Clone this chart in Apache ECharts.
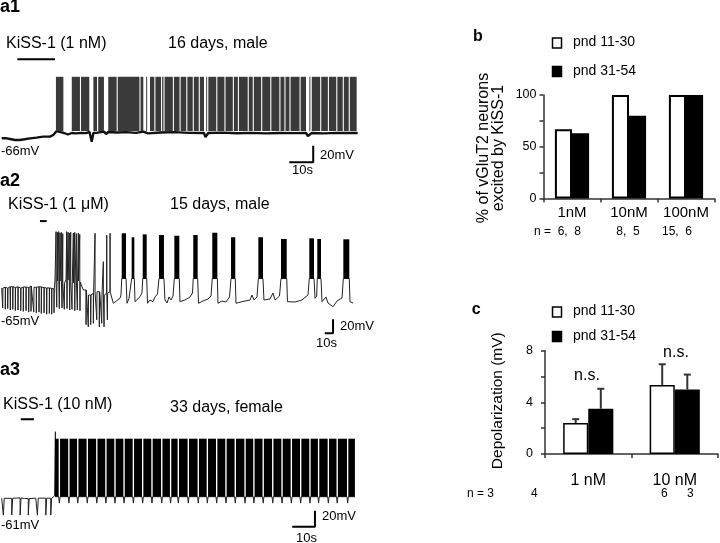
<!DOCTYPE html>
<html><head><meta charset="utf-8">
<script src="https://cdn.jsdelivr.net/npm/echarts@6.0.0/dist/echarts.min.js"></script>
<style>html,body{margin:0;padding:0;background:#fff}#chart{width:720px;height:543px}</style>
</head><body><div id="chart"></div>
<script>
// ---------------- a1 trace (time s, membrane potential mV) ----------------
const a1Baseline = [[0,-66.4],[2.1,-66.4],[3.5,-67.2],[5.5,-68.4],[7.6,-68.4],[9.5,-67.5],[11.8,-66.4],[14.5,-65.6],[17.3,-64.4],[20.1,-64.4],[21.5,-62.4],[22.9,-57.6],[24.5,-59],[26,-60],[27.6,-61.8],[29.2,-60],[31,-60.5],[33,-59.8],[35,-60.2],[36.6,-58.8],[37.5,-70.4],[38.2,-60],[40,-59.5],[42.6,-58.4],[43.5,-61.2],[44.4,-58.8],[48,-59.4],[52,-59],[56,-59.8],[59,-58.4],[61,-60.4],[61.8,-58.4],[66,-59.4],[72,-59],[78,-59.8],[84.3,-60],[84.9,-64.8],[86.1,-60],[92,-59.5],[98,-60.3],[104,-59.8],[110,-60.5],[116,-60],[122,-60.2],[126.8,-60],[127.6,-63.6],[129.2,-60],[134,-60.4],[140,-59.8],[148.3,-60]];
const a1Firing = [[22.6,25.7],[29.2,32.6],[33.05,36.5],[38.2,39.7],[40.2,42.6],[44.4,47.9],[48.35,57.4],[57.85,59.0],[60.2,60.6],[61.8,63.6],[64.05,66.4],[66.85,67.4],[67.85,71.3],[71.75,74.1],[74.55,76.9],[77.35,79.6],[80.05,82.1],[82.55,84.3],[85.2,85.6],[86.1,89.4],[89.85,92.8],[93.25,96.3],[96.75,98.4],[98.85,102.5],[102.95,104.6],[105.05,108.1],[108.55,111.9],[112.35,115.7],[116.15,117.8],[118.25,119.9],[120.35,124.1],[124.55,126.8],[128.2,128.6],[129.2,132.7],[133.15,135.9],[136.35,139.4],[139.85,142.1],[142.55,144.6],[145.05,147.9]];
const a1SpikePeak = 7.5, a1SpikeTrough = -57.6;
const a1Drug = [6.5, 22.2, 28.5];          // start s, end s, drawn at mV
const a1ScaleCorner = [129.8, -95.2];

// ---------------- a2 trace ----------------
const a2Baseline = [[0,-64.6],[3,-63.5],[6,-64.8],[10,-62.7],[14,-63.8],[18,-63],[22,-64.6],[26,-63.2],[30,-64],[34.1,-61.7],[38,-63.5],[42,-62.8],[46.1,-63.1],[50,-64],[54,-64.5],[58.2,-65],[61,-65.5],[63,-66],[64.2,-54.6],
 [67.8,-54.6],[70.5,-56],[73.9,-57.4],[77.5,-53.1],[81,-55.5],[84.7,-57.4],[89.5,-54.6],[94.3,-56],
 [98.3,-67.4],[102.4,-74.6],[108.4,-72.1],[112.4,-69.9],[118.4,-74.6],[124.5,-72.1],[130.5,-69.9],[134.5,-86.4],[138.6,-82.7],[142.5,-79.3],[143.7,-74.6],
 [151,-86.4],[153.4,-79.3],[155.8,-77],
 [160.6,-84.1],[163,-81.7],[166.6,-77],[169,-71.7],
 [175.7,-86.4],[178.7,-81.7],[182.3,-84.1],[184.7,-77.4],[187.7,-73.1],
 [196.7,-81.7],[199.2,-86],[201.6,-77.4],[204,-81.7],[206.4,-76],
 [214.8,-84.1],[220.8,-81.7],[226.9,-77.4],[229.9,-71.7],
 [237.1,-86.4],[242.5,-83.1],[248.6,-80.3],[252.2,-76],
 [260.6,-86.4],[265.4,-83.1],[270.2,-84.6],[274.5,-77.4],
 [282.3,-86.4],[289.5,-84.1],[299.2,-81.7],[301.6,-74.6],[304,-81.7],[307.6,-77.4],
 [316,-81.7],[323.2,-80.3],[326.9,-71.7],[329.3,-81.7],[334.7,-76],
 [344.3,-84.1],[353.3,-84.6],[361.8,-81.7],[369,-74.6],
 [377.5,-79.3],[379.5,-76],
 [385.9,-84.1],[390.7,-77.4],[393.1,-86],[399.2,-91.3],[404,-83.1],[410,-78.9],
 [419.6,-84.1],[423.3,-86]];
const a2Spikes = [[65.4,16],[67.0,15],[68.7,16],[70.2,14],[71.8,15],[73.5,13],[78.3,16],[79.9,15],[81.4,14],[83.1,15],[86.3,14],[87.9,15],[89.9,13],[92.3,14],[94.0,12],[112.4,13.6],[122.4,-27],[126.5,11],[130.5,13.6]];
const a2Pulses = [[1.2,-93],[4.3,-95],[7.2,-94],[10.4,-96],[13.3,-95],[16.4,-97],[19.6,-96],[22.9,-97],[26.0,-98],[29.3,-97],[32.5,-99],[35.3,-98],[38.6,-99],[41.7,-100],[44.9,-99],[47.7,-101],[51.0,-100],[54.2,-102],[57.4,-101],[60.2,-102],[63.0,-100],
 [66.3,-92],[69.4,-94],[72.7,-93],[75.4,-95],[78.7,-94],[81.9,-96],[84.7,-95],[88.0,-97],[91.1,-96],[94.3,-97],
 [101.6,-117],[104.3,-120],[107.2,-117],[110.4,-115],[114.5,-110],[117.6,-120],[120.5,-115],[123.3,-120],[127.3,-110]];
const a2Bursts = [[144.6,149.8,13.6],[156.6,159.8,7.9],[169.9,174.7,12.1],[189.5,195.5,11.1],[208,214,10.1],[230.8,236.1,11.1],[253.7,259.8,14.4],[276.3,281.4,7.9],[309.2,314.8,7.9],[336.5,343.4,5.4],[370.6,376.3,6.4],[380.2,384.7,5.4],[411.6,418.8,5]];
const a2Plateau = -51;
const a2Drug = [46.1, 54.2, 31];
const a2ScaleCorner = [399.2, -129.3];

// ---------------- a3 trace ----------------
const a3Baseline = [[0,-61],[5,-60.5],[10,-61.3],[15,-60.8],[20,-61],[22.5,-60],[23.3,-58]];
const a3Pulses = [[0.7,-82],[4.4,-82],[8.1,-82],[11.7,-82],[15.7,-82],[19.4,-82],[21.6,-82]];
const a3Spikes = [[23.6,22.2]];
const a3Gaps = [25.4,29.6,33.5,37.7,41.9,45.9,49.9,53.9,58.0,62.1,66.2,70.5,74.4,77.8,82.2,86.6,90.6,94.7,98.8,102.9,107.2,111.1,115.2,119.4,123.5,127.6,131.7,135.8,139.6,143.9,147.8,152.4];
const a3FiringSpan = [23.5, 155.6];
const a3Top = 13.5, a3Bottom = -59, a3Ahp = -67;
const a3Drug = [8.4, 14.2, 37.75];
const a3ScaleCorner = [138.0, -96.5];

const scaleTime = 10, scaleVolt = 20;

// ---------------- b: % of vGluT2 neurons excited ----------------
const bCategories = ['1nM', '10nM', '100nM'];
const bYoung = [67, 100, 100];
const bOld = [63, 80, 100];
const bTicks = [0, 50, 100];
const bN = ['n =  6,  8', '8,  5', '15,  6'];

// ---------------- c: depolarization ----------------
const cCategories = ['1 nM', '10 nM'];
const cYoung = [2.4, 5.35];
const cYoungErr = [0.3, 1.6];
const cOld = [3.5, 5.0];
const cOldErr = [1.55, 1.15];
const cTicks = [0, 4, 8];
const cN = ['n = 3', '4', '6', '3'];

const seriesNames = ['pnd 11-30', 'pnd 31-54'];

// ================= build =================
const FONT = '"Liberation Sans", Arial, Helvetica, sans-serif';
const BAR_GAP_B = 0.40, BAR_GAP_C = 0.42;

function traceLine(baseline, spikes, pulses, pulseW, bursts, plateau) {
  const ev = [];
  baseline.forEach(p => ev.push({t: p[0], k: 'b', v: p[1]}));
  spikes.forEach(p => ev.push({t: p[0], k: 's', v: p[1]}));
  pulses.forEach(p => ev.push({t: p[0], k: 'p', v: p[1]}));
  bursts.forEach(b => { ev.push({t: b[0], k: 'b', v: plateau}); ev.push({t: b[1], k: 'b', v: plateau}); });
  ev.sort((a, b) => a.t - b.t);
  const out = []; let cur = baseline[0][1];
  ev.forEach(e => {
    if (e.k === 'b') { out.push([e.t, e.v]); cur = e.v; }
    else if (e.k === 's') { out.push([e.t, cur], [e.t + 0.05, e.v], [e.t + 0.1, cur]); }
    else { out.push([e.t, cur], [e.t + 0.02, e.v], [e.t + pulseW, e.v], [e.t + pulseW + 0.02, cur]); }
  });
  return out;
}

function lineSeries(gi, data, width, color) {
  return {type: 'line', xAxisIndex: gi, yAxisIndex: gi, data, symbol: 'none', clip: false,
    lineStyle: {color: color || '#111', width: width}, silent: true, z: 2};
}
function blockSeries(gi, data, color) {
  return {type: 'custom', xAxisIndex: gi, yAxisIndex: gi, data, clip: false, silent: true, z: 3,
    encode: {x: [0, 1], y: [2, 3]},
    renderItem: (params, api) => {
      const a = api.coord([api.value(0), api.value(3)]);
      const b = api.coord([api.value(1), api.value(2)]);
      return {type: 'rect', shape: {x: a[0], y: a[1], width: b[0] - a[0], height: b[1] - a[1]}, style: {fill: color}};
    }};
}
function scaleBarSeries(gi, c) {
  return lineSeries(gi, [[c[0] - scaleTime, c[1]], [c[0], c[1]], [c[0], c[1] + scaleVolt]], 2, '#000');
}
function drugSeries(gi, d) {
  return lineSeries(gi, [[d[0], d[2]], [d[1], d[2]]], 2, '#000');
}

// a1
const a1Line = traceLine(a1Baseline, [], [], 0, [], 0);
const a1Blocks = a1Firing.map(f => [f[0], f[1], a1SpikeTrough, a1SpikePeak]);
// a2
const a2Line = traceLine(a2Baseline, a2Spikes, a2Pulses, 0.3, a2Bursts, a2Plateau);
const a2Blocks = a2Bursts.map(b => [b[0], b[1], a2Plateau, b[2]]);
// a3
const GAP_HALF = 0.3;
const edges = [a3FiringSpan[0]].concat(a3Gaps, [a3FiringSpan[1]]);
const a3Blocks = [];
for (let i = 0; i < edges.length - 1; i++) {
  const s = i === 0 ? edges[0] : edges[i] + GAP_HALF;
  const e = i === edges.length - 2 ? edges[i + 1] : edges[i + 1] - GAP_HALF;
  a3Blocks.push([s, e, a3Bottom, a3Top]);
}
const a3Line = traceLine(a3Baseline.concat(a3Gaps.map(g => [g, a3Ahp])), a3Spikes, a3Pulses, 0.4,
  a3Blocks.map(b => [b[0], b[1]]), a3Bottom);

function errSeries(vals, errs, side) {
  return {type: 'custom', xAxisIndex: 4, yAxisIndex: 4, z: 5, silent: true,
    data: vals.map((v, i) => [i, v, v + errs[i]]),
    encode: {x: 0, y: [1, 2]},
    renderItem: (params, api) => {
      const band = api.size([1, 0])[0];
      const off = side * band * (1 - BAR_GAP_C) / 4;
      const b = api.coord([api.value(0), api.value(1)]);
      const t = api.coord([api.value(0), api.value(2)]);
      const x = b[0] + off;
      return {type: 'group', children: [
        {type: 'line', shape: {x1: x, y1: b[1], x2: x, y2: t[1]}, style: {stroke: '#333', lineWidth: 2}},
        {type: 'line', shape: {x1: x - 3.5, y1: t[1], x2: x + 3.5, y2: t[1]}, style: {stroke: '#333', lineWidth: 2}}
      ]};
    }};
}

function txt(text, x, y, size, o) {
  o = o || {};
  return {type: 'text', x: x, y: y, rotation: o.rot || 0, silent: true, z: 10,
    style: {text: text, fontSize: size, fontFamily: FONT, fontWeight: o.bold ? 'bold' : 'normal', fill: '#000',
      align: o.align || 'left', verticalAlign: 'middle', textAlign: o.align || 'left', textVerticalAlign: 'middle',
      lineHeight: o.lh || undefined}};
}
function box(x, y, fill) {
  return {type: 'rect', silent: true, z: 10, shape: {x: x, y: y, width: 9, height: 10},
    style: {fill: fill, stroke: '#000', lineWidth: 1.5}};
}

const axisCol = '#333';
function barXAxis(gi, cats, fs, margin) {
  return {type: 'category', gridIndex: gi, data: cats,
    axisLine: {show: true, lineStyle: {color: axisCol, width: 1.5}},
    axisTick: {show: true, length: 4, alignWithLabel: false, lineStyle: {color: axisCol, width: 1.5}},
    axisLabel: {show: true, fontSize: fs, color: '#000', fontFamily: FONT, margin: margin, interval: 0},
    splitLine: {show: false}};
}
function barYAxis(gi, max, interval, ticks, margin) {
  return {type: 'value', gridIndex: gi, min: 0, max: max, interval: interval,
    axisLine: {show: true, lineStyle: {color: axisCol, width: 1.5}},
    axisTick: {show: true, length: 4, lineStyle: {color: axisCol, width: 1.5}},
    axisLabel: {show: true, fontSize: 12.5, color: '#000', fontFamily: FONT, margin: margin,
      formatter: v => ticks.indexOf(v) >= 0 ? String(v) : ''},
    splitLine: {show: false}};
}
function hidden(gi, min, max) {
  return {type: 'value', gridIndex: gi, min: min, max: max, show: false, splitLine: {show: false}};
}
const gridBase = {containLabel: false, outerBoundsMode: 'none'};

const option = {
  animation: false,
  backgroundColor: '#fff',
  grid: [
    Object.assign({left: 1.7, top: 53.9, width: 360, height: 112.4}, gridBase),
    Object.assign({left: 1.7, top: 214.8, width: 356.9, height: 126}, gridBase),
    Object.assign({left: 1.7, top: 413.5, width: 363.2, height: 116}, gridBase),
    Object.assign({left: 543.5, top: 95, width: 171, height: 103.5}, gridBase),
    Object.assign({left: 545, top: 350.7, width: 173, height: 103.3}, gridBase)
  ],
  xAxis: [hidden(0, 0, 150), hidden(1, 0, 430), hidden(2, 0, 160),
    barXAxis(3, bCategories, 15, 7), barXAxis(4, cCategories, 16, 19)],
  yAxis: [hidden(0, -100, 35), hidden(1, -140, 40), hidden(2, -100, 45),
    barYAxis(3, 100, 25, bTicks, 7), barYAxis(4, 8, 2, cTicks, 12)],
  series: [
    lineSeries(0, a1Line, 2.4), blockSeries(0, a1Blocks, '#3a3a3a'), scaleBarSeries(0, a1ScaleCorner), drugSeries(0, a1Drug),
    lineSeries(1, a2Line, 1, '#222'), blockSeries(1, a2Blocks, '#000'), scaleBarSeries(1, a2ScaleCorner), drugSeries(1, a2Drug),
    lineSeries(2, a3Line, 1, '#222'), blockSeries(2, a3Blocks, '#000'), scaleBarSeries(2, a3ScaleCorner), drugSeries(2, a3Drug),
    {type: 'bar', name: seriesNames[0], xAxisIndex: 3, yAxisIndex: 3, data: bYoung, barGap: '0%', barCategoryGap: (BAR_GAP_B * 100) + '%',
      itemStyle: {color: '#fff', borderColor: '#000', borderWidth: 2}, silent: true},
    {type: 'bar', name: seriesNames[1], xAxisIndex: 3, yAxisIndex: 3, data: bOld, barGap: '0%', barCategoryGap: (BAR_GAP_B * 100) + '%',
      itemStyle: {color: '#000'}, silent: true},
    {type: 'bar', name: seriesNames[0], xAxisIndex: 4, yAxisIndex: 4, data: cYoung, barGap: '0%', barCategoryGap: (BAR_GAP_C * 100) + '%',
      itemStyle: {color: '#fff', borderColor: '#000', borderWidth: 1.5}, silent: true},
    {type: 'bar', name: seriesNames[1], xAxisIndex: 4, yAxisIndex: 4, data: cOld, barGap: '0%', barCategoryGap: (BAR_GAP_C * 100) + '%',
      itemStyle: {color: '#000'}, silent: true},
    errSeries(cYoung, cYoungErr, -1), errSeries(cOld, cOldErr, 1)
  ],
  graphic: [
    // a1
    txt('a1', 0, 7, 18, {bold: true}),
    txt('KiSS-1 (1 nM)', 6, 43.3, 16), txt('16 days, male', 168, 43.3, 16),
    txt('-66mV', 1, 151, 13), txt('20mV', 320, 155, 13), txt('10s', 292, 170, 13),
    // a2
    txt('a2', 0, 181.5, 18, {bold: true}),
    txt('KiSS-1 (1 \u03bcM)', 8, 205, 16), txt('15 days, male', 170, 205, 16),
    txt('-65mV', 1, 321.7, 13), txt('20mV', 340, 326.7, 13), txt('10s', 316, 343.3, 13),
    // a3
    txt('a3', 0, 370, 18, {bold: true}),
    txt('KiSS-1 (10 nM)', 3, 405, 16), txt('33 days, female', 170, 408, 16),
    txt('-61mV', 1, 525, 13), txt('20mV', 322, 516.7, 13), txt('10s', 296, 538, 13),
    // b
    txt('b', 473, 37, 16, {bold: true}),
    box(552.5, 38, '#fff'), txt(seriesNames[0], 573, 42.5, 14),
    box(552.5, 66.5, '#000'), txt(seriesNames[1], 573, 71.5, 14),
    txt('% of vGluT2 neurons\nexcited by KiSS-1', 491, 148, 16, {rot: Math.PI / 2, align: 'center', lh: 15.7}),
    txt(bN[0], 534, 231.7, 12), txt(bN[1], 628, 231.7, 12, {align: 'center'}), txt(bN[2], 677, 231.7, 12, {align: 'center'}),
    // c
    txt('c', 471.7, 310, 16, {bold: true}),
    box(552.5, 307, '#fff'), txt(seriesNames[0], 573, 311.5, 14),
    box(552.5, 331.5, '#000'), txt(seriesNames[1], 573, 336, 14),
    txt('Depolarization (mV)', 497.5, 400.7, 15.5, {rot: Math.PI / 2, align: 'center'}),
    txt('n.s.', 587, 376, 16, {align: 'center'}), txt('n.s.', 676, 352.3, 16, {align: 'center'}),
    txt(cN[0], 467, 494, 12), txt(cN[1], 531, 494, 12), txt(cN[2], 661, 494, 12), txt(cN[3], 687, 494, 12)
  ]
};

const chart = echarts.init(document.getElementById('chart'), null, {renderer: 'canvas', width: 720, height: 543});
chart.setOption(option);
</script></body></html>
